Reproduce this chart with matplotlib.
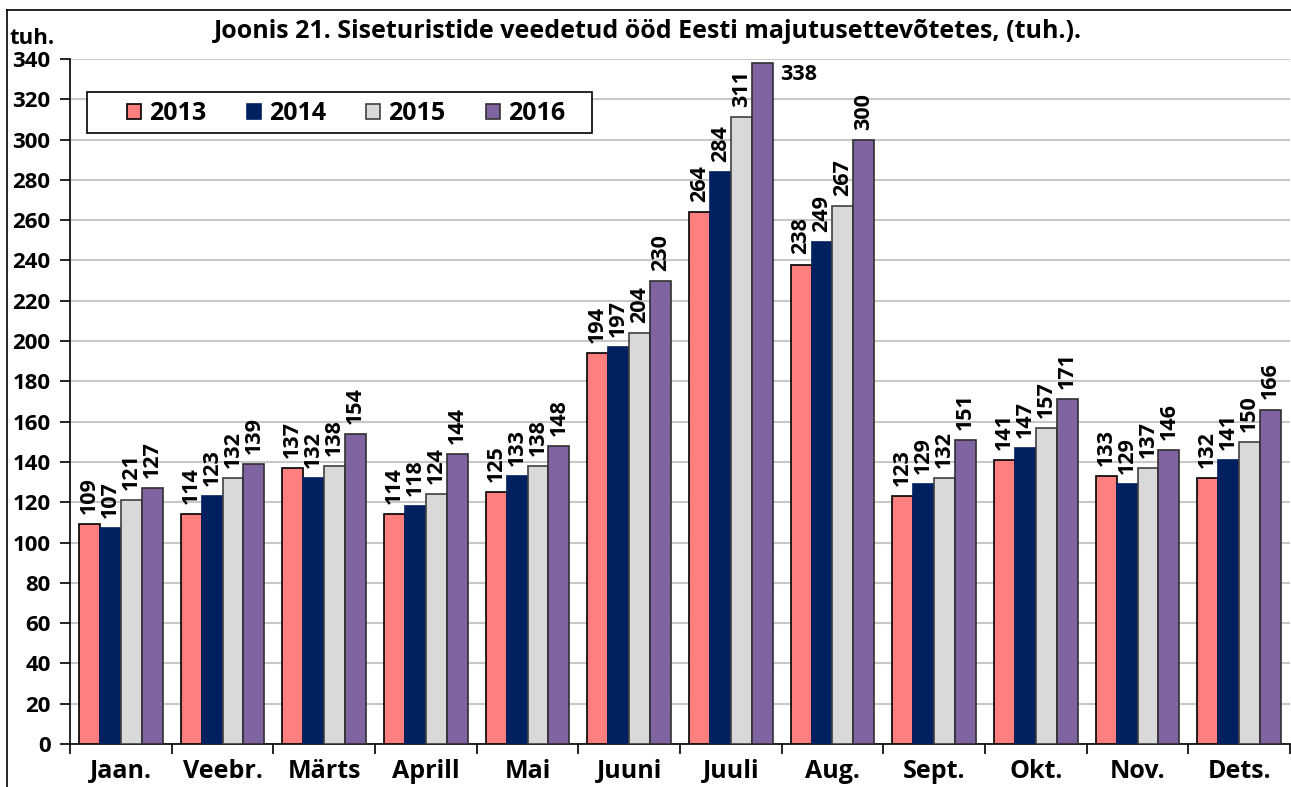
import numpy as np
import matplotlib.pyplot as plt
from matplotlib.lines import Line2D
from matplotlib.patches import Rectangle

plt.rcParams['font.family'] = ['Open Sans', 'DejaVu Sans']

months = ["Jaan.", "Veebr.", "Märts", "Aprill", "Mai", "Juuni",
          "Juuli", "Aug.", "Sept.", "Okt.", "Nov.", "Dets."]
years = ["2013", "2014", "2015", "2016"]
v2013 = [109, 114, 137, 114, 125, 194, 264, 238, 123, 141, 133, 132]
v2014 = [107, 123, 132, 118, 133, 197, 284, 249, 129, 147, 129, 141]
v2015 = [121, 132, 138, 124, 138, 204, 311, 267, 132, 157, 137, 150]
v2016 = [127, 139, 154, 144, 148, 230, 338, 300, 151, 171, 146, 166]
series = [v2013, v2014, v2015, v2016]

colors = ["#FF7F7F", "#002060", "#D9D9D9", "#8064A2"]
edges = ["#000000", "#002060", "#404040", "#303030"]

W, H = 1291, 787
fig = plt.figure(figsize=(W / 100, H / 100), dpi=100)
ax = fig.add_axes([70 / W, 1 - 744 / H, 1220 / W, 685 / H])

x = np.arange(len(months))
w = 0.206
for k, vals in enumerate(series):
    pos = x + 0.5 + (k - 1.5) * w
    ax.bar(pos, vals, width=w, color=colors[k], edgecolor=edges[k],
           linewidth=1.2, label=years[k], zorder=3)
    for p, v in zip(pos, vals):
        if v > 330:
            # no room above the tallest bar: label goes to its right
            ax.text(p + w / 2 + 0.07, v - 0.5, str(v), ha="left", va="top",
                    fontsize=15.5, fontweight="bold")
        else:
            ax.text(p, v + 5, str(v), ha="center", va="bottom",
                    rotation=90, fontsize=15.5, fontweight="bold")

ax.set_xlim(0, 12)
ax.set_ylim(0, 340)
ax.set_yticks(np.arange(0, 341, 20))
ax.set_xticks(np.arange(0, 13))
ax.set_xticklabels([])
ax.set_xticks(x + 0.5, minor=True)
ax.set_xticklabels(months, minor=True, fontsize=18, fontweight="bold")
ax.tick_params(axis="x", which="minor", length=0, pad=11)
ax.tick_params(axis="x", which="major", length=7, width=1.2)
ax.tick_params(axis="y", length=7, width=1.2, labelsize=16, pad=7)
for lab in ax.get_yticklabels():
    lab.set_fontweight("bold")
ax.grid(axis="y", color="#C8C8C8", linewidth=1.5, zorder=0)
ax.spines["top"].set_visible(False)
ax.spines["right"].set_visible(False)
ax.spines["left"].set_linewidth(1.2)
ax.spines["bottom"].set_linewidth(1.2)

fig.text(648 / W, 1 - 31 / H,
         "Joonis 21. Siseturistide veedetud ööd Eesti majutusettevõtetes, (tuh.).",
         ha="center", va="center", fontsize=18, fontweight="bold")
fig.text(10 / W, 1 - 38 / H, "tuh.", ha="left", va="center",
         fontsize=16, fontweight="bold")

# legend box drawn separately (wide inner margin like the original)
fig.add_artist(Rectangle((87 / W, 1 - 133 / H), 505 / W, 41 / H,
                         transform=fig.transFigure, facecolor="white",
                         edgecolor="black", linewidth=1.2, zorder=5))
leg = fig.legend(loc="center left", bbox_to_anchor=(127 / W, 1 - 114 / H),
                 ncol=4, frameon=False, prop={"weight": "bold", "size": 18},
                 handlelength=0.56, handleheight=0.56, columnspacing=1.62,
                 handletextpad=0.32, borderpad=0, borderaxespad=0)
leg.set_zorder(6)

fig.add_artist(Line2D([7 / W, 7 / W], [0, 1 - 10 / H],
                      transform=fig.transFigure, color="black", linewidth=1.2))
fig.add_artist(Line2D([7 / W, 1], [1 - 10 / H, 1 - 10 / H],
                      transform=fig.transFigure, color="black", linewidth=1.2))

fig.savefig("out.png", dpi=100)
